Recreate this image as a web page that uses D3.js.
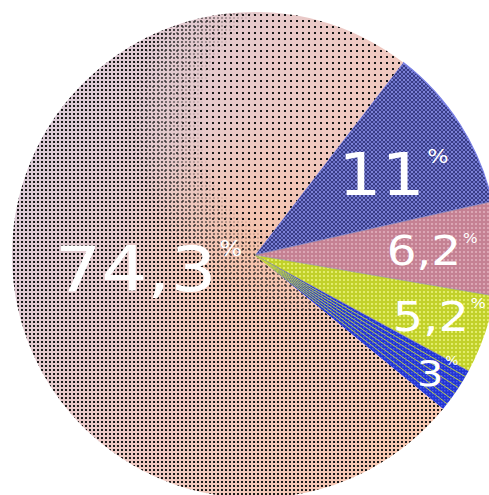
<!DOCTYPE html>
<html><head><meta charset="utf-8">
<script src="https://cdn.jsdelivr.net/npm/d3@7/dist/d3.min.js"></script>
<style>html,body{margin:0;padding:0;background:#fff;overflow:hidden}</style>
</head><body>
<script>
// ---- data ----
const categories = ["A", "B", "C", "D", "E"];
const values = [11, 6.2, 5.2, 3, 74.3];
const valueLabels = ["11", "6,2", "5,2", "3", "74,3"];
const percentSign = "%";

// ---- styles ----
const labelRadius = [150, 169, 186, 211, 120];
const labelSize = [58, 40, 41, 36, 62];
const startDeg = 37.6;

const W = 489, H = 495, cx = 255, cy = 255, R = 243;
const svg = d3.select("body").append("svg").attr("width", W).attr("height", H);
const defs = svg.append("defs");

// big-slice gradient
const lg = defs.append("linearGradient").attr("id", "gBig").attr("x1", "0").attr("x2", "1").attr("y1", "0.2").attr("y2", "0.8");
lg.append("stop").attr("offset", "0").attr("stop-color", "#d8cad9");
lg.append("stop").attr("offset", "0.55").attr("stop-color", "#efc9c2");
lg.append("stop").attr("offset", "1").attr("stop-color", "#f6c7b0");
const rg = defs.append("radialGradient").attr("id", "gCore").attr("cx", cx).attr("cy", cy).attr("r", 140).attr("gradientUnits", "userSpaceOnUse");
rg.append("stop").attr("offset", "0").attr("stop-color", "#f8bfa0").attr("stop-opacity", 0.7);
rg.append("stop").attr("offset", "1").attr("stop-color", "#f8bfa0").attr("stop-opacity", 0);

// dots patterns
const pDots = defs.append("pattern").attr("id", "pDots").attr("width", 4).attr("height", 4).attr("patternUnits", "userSpaceOnUse");
pDots.append("rect").attr("x", 1).attr("y", 1).attr("width", 2).attr("height", 2).attr("fill", "#1a1a1a");
const pDotsSparse = defs.append("pattern").attr("id", "pDotsSparse").attr("width", 6).attr("height", 6).attr("patternUnits", "userSpaceOnUse");
pDotsSparse.append("rect").attr("x", 2).attr("y", 2).attr("width", 2).attr("height", 2).attr("fill", "#1a1a1a");

const mk = defs.append("radialGradient").attr("id", "gMaskG").attr("cx", 330).attr("cy", 120).attr("r", 230).attr("gradientUnits", "userSpaceOnUse");
mk.append("stop").attr("offset", "0").attr("stop-color", "#000");
mk.append("stop").attr("offset", "0.55").attr("stop-color", "#000");
mk.append("stop").attr("offset", "0.85").attr("stop-color", "#fff");
const mask = defs.append("mask").attr("id", "mDense");
mask.append("rect").attr("width", W).attr("height", H).attr("fill", "url(#gMaskG)");
const mk2 = defs.append("radialGradient").attr("id", "gMaskG2").attr("cx", 330).attr("cy", 120).attr("r", 230).attr("gradientUnits", "userSpaceOnUse");
mk2.append("stop").attr("offset", "0").attr("stop-color", "#fff");
mk2.append("stop").attr("offset", "0.6").attr("stop-color", "#fff");
mk2.append("stop").attr("offset", "0.9").attr("stop-color", "#000");
const mask2 = defs.append("mask").attr("id", "mSparse");
mask2.append("rect").attr("width", W).attr("height", H).attr("fill", "url(#gMaskG2)");

// checker for blue 11
const pCheck = defs.append("pattern").attr("id", "pCheck").attr("width", 4).attr("height", 4).attr("patternUnits", "userSpaceOnUse");
pCheck.append("rect").attr("width", 4).attr("height", 4).attr("fill", "#383c86");
pCheck.append("rect").attr("width", 2).attr("height", 2).attr("fill", "#7d83d8");
pCheck.append("rect").attr("x", 2).attr("y", 2).attr("width", 2).attr("height", 2).attr("fill", "#6a70c8");
// grid for pink
const pPink = defs.append("pattern").attr("id", "pPink").attr("width", 4).attr("height", 4).attr("patternUnits", "userSpaceOnUse");
pPink.append("rect").attr("width", 4).attr("height", 4).attr("fill", "#c58193");
pPink.append("rect").attr("width", 2).attr("height", 2).attr("fill", "#dba6b4");
// grid for yellow
const pYel = defs.append("pattern").attr("id", "pYel").attr("width", 4).attr("height", 4).attr("patternUnits", "userSpaceOnUse");
pYel.append("rect").attr("width", 4).attr("height", 4).attr("fill", "#c2d12a");
pYel.append("rect").attr("width", 2).attr("height", 2).attr("fill", "#e2ec6a");
// blue 3
const pBlue = defs.append("pattern").attr("id", "pBlue").attr("width", 3).attr("height", 3).attr("patternUnits", "userSpaceOnUse");
pBlue.append("rect").attr("width", 3).attr("height", 3).attr("fill", "#2234d4");
pBlue.append("rect").attr("width", 1.5).attr("height", 1.5).attr("fill", "#4a5ce8");

const fills = ["url(#pCheck)", "url(#pPink)", "url(#pYel)", "url(#pBlue)", "url(#gBig)"];

const a0 = startDeg * Math.PI / 180;
const pie = d3.pie().sort(null).value(d => d).startAngle(a0).endAngle(a0 + 2 * Math.PI);
const arcs = pie(values);
const arc = d3.arc().innerRadius(0).outerRadius(R);

const g = svg.append("g").attr("transform", `translate(${cx},${cy})`);

g.selectAll("path.slice").data(arcs).join("path")
  .attr("class", "slice")
  .attr("d", arc)
  .attr("fill", (d, i) => fills[i])
  .attr("stroke", (d, i) => i === 0 ? "#7b82e6" : "none")
  .attr("stroke-width", 1.2);

// overlays on the big slice
const big = arcs[4];
const clip = defs.append("clipPath").attr("id", "cBig");
clip.append("path").attr("d", arc(big)).attr("transform", `translate(${cx},${cy})`);
const gAbs = svg.append("g");
gAbs.append("rect").attr("width", W).attr("height", H).attr("fill", "url(#gCore)").attr("clip-path", "url(#cBig)");
gAbs.append("rect").attr("width", W).attr("height", H).attr("fill", "url(#pDots)").attr("clip-path", "url(#cBig)").attr("mask", "url(#mDense)");
gAbs.append("rect").attr("width", W).attr("height", H).attr("fill", "url(#pDotsSparse)").attr("clip-path", "url(#cBig)").attr("mask", "url(#mSparse)");

const g2 = svg.append("g").attr("transform", `translate(${cx},${cy})`);
// stripes in the 3% slice
const s3 = arcs[3];
const nStripes = 6;
d3.range(1, nStripes + 1).forEach(k => {
  const a = s3.startAngle + (s3.endAngle - s3.startAngle) * k / (nStripes + 1);
  g2.append("line").attr("x1", 0).attr("y1", 0)
    .attr("x2", R * Math.sin(a)).attr("y2", -R * Math.cos(a))
    .attr("stroke", "#c8da3a").attr("stroke-width", 0.9);
});
// thin separators
g2.selectAll("path.sep").data(arcs.slice(1, 4)).join("path").attr("class", "sep")
  .attr("d", d => `M0,0L${R * Math.sin(d.startAngle)},${-R * Math.cos(d.startAngle)}`)
  .attr("stroke", "#8a86a8").attr("stroke-width", 0.6).attr("fill", "none");

// labels
const lbl = g2.selectAll("g.lbl").data(arcs).join("g").attr("class", "lbl")
  .attr("transform", (d, i) => {
    const m = (d.startAngle + d.endAngle) / 2;
    return `translate(${labelRadius[i] * Math.sin(m)},${-labelRadius[i] * Math.cos(m)})`;
  });
lbl.each(function (d, i) {
  const s = labelSize[i];
  const t = d3.select(this).append("g").attr("transform", "scale(1.17,1)");
  const txt = t.append("text").attr("font-family", "DejaVu Sans").attr("fill", "#fff")
    .attr("font-size", s).attr("text-anchor", "middle").attr("dy", "0.36em")
    .text(valueLabels[i]);
  const w = txt.node().getComputedTextLength();
  t.append("text").attr("font-family", "DejaVu Sans").attr("fill", "#fff")
    .attr("font-size", s * 0.33).attr("x", w / 2 + s * 0.04).attr("y", -s * 0.2)
    .text(percentSign);
});
</script>
</body></html>
